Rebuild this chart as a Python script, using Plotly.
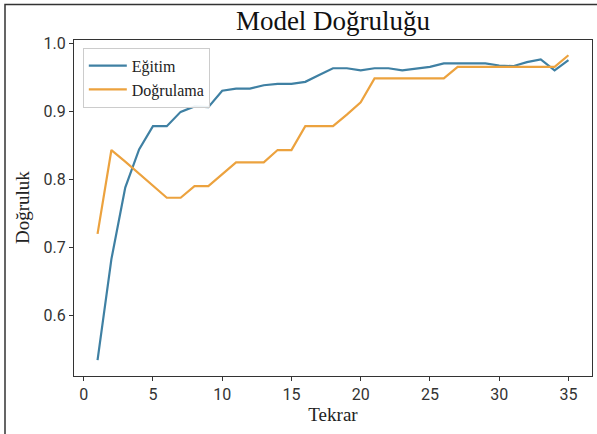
import plotly.graph_objects as go

# Epoch numbers and accuracy per epoch
epochs = list(range(1, 36))
egitim = [0.535, 0.683, 0.788, 0.844, 0.878, 0.878, 0.899, 0.907, 0.906, 0.930,
          0.933, 0.933, 0.938, 0.940, 0.940, 0.943, 0.953, 0.963, 0.963, 0.960,
          0.963, 0.963, 0.960, 0.963, 0.965, 0.970, 0.970, 0.970, 0.970, 0.967,
          0.966, 0.972, 0.976, 0.960, 0.975]
dogrulama = [0.720, 0.843, 0.826, 0.808, 0.791, 0.773, 0.773, 0.790, 0.790, 0.808,
             0.825, 0.825, 0.825, 0.843, 0.843, 0.878, 0.878, 0.878, 0.895, 0.913,
             0.948, 0.948, 0.948, 0.948, 0.948, 0.948, 0.965, 0.965, 0.965, 0.965,
             0.965, 0.965, 0.965, 0.965, 0.982]
x_ticks = [0, 5, 10, 15, 20, 25, 30, 35]
y_ticks = [0.6, 0.7, 0.8, 0.9, 1.0]

W, H = 597, 434
L, R, T, B = 74, 5, 39.5, 58
plot_w = W - L - R
plot_h = H - T - B

serif = "Liberation Serif, Times New Roman, serif"
sans = "Roboto, sans-serif"

fig = go.Figure()
fig.add_trace(go.Scatter(x=epochs, y=egitim, mode="lines", name="Eğitim",
                         line=dict(color="#3f80a3", width=2.2)))
fig.add_trace(go.Scatter(x=epochs, y=dogrulama, mode="lines", name="Doğrulama",
                         line=dict(color="#eca23e", width=2.2)))

axis_common = dict(showline=True, linecolor="#333333", linewidth=1, mirror=True,
                   showgrid=False, zeroline=False, ticks="outside", ticklen=4,
                   tickcolor="#333333", tickfont=dict(family=sans, size=16, color="#333333"))

fig.update_xaxes(range=[-0.7, 36.7], tickvals=x_ticks,
                 title=dict(text="Tekrar", font=dict(family=serif, size=19, color="#222222"),
                            standoff=2),
                 **axis_common)
fig.update_yaxes(range=[0.5116, 1.0044], tickvals=y_ticks, tickformat=".1f",
                 **axis_common)

# y-axis title placed as a rotated annotation, close to the left edge
fig.add_annotation(text="Doğruluk", xref="paper", yref="paper",
                   x=(22 - L) / plot_w, y=0.5, xanchor="center", yanchor="middle",
                   textangle=-90, showarrow=False,
                   font=dict(family=serif, size=19, color="#222222"))

# outer frame around the figure
fig.add_shape(type="rect", xref="paper", yref="paper",
              x0=(5 - L) / plot_w, x1=(W + 5 - L) / plot_w,
              y0=-(H + 5 - T - plot_h) / plot_h, y1=(H - B - 4) / plot_h,
              line=dict(color="#333333", width=1.5), layer="below")

fig.update_layout(
    width=W, height=H,
    margin=dict(l=L, r=R, t=T, b=B),
    paper_bgcolor="white", plot_bgcolor="white",
    title=dict(text="Model Doğruluğu", x=(L + plot_w / 2) / W, xanchor="center",
               y=1 - 21 / H, yanchor="middle",
               font=dict(family=serif, size=27, color="#111111")),
    legend=dict(x=0.017, y=0.977, xanchor="left", yanchor="top",
                bgcolor="rgba(255,255,255,0.9)", bordercolor="#cccccc", borderwidth=1,
                font=dict(family=serif, size=16, color="#222222"),
                itemwidth=38, tracegroupgap=0),
    showlegend=True,
)

fig.write_html("out.html")
